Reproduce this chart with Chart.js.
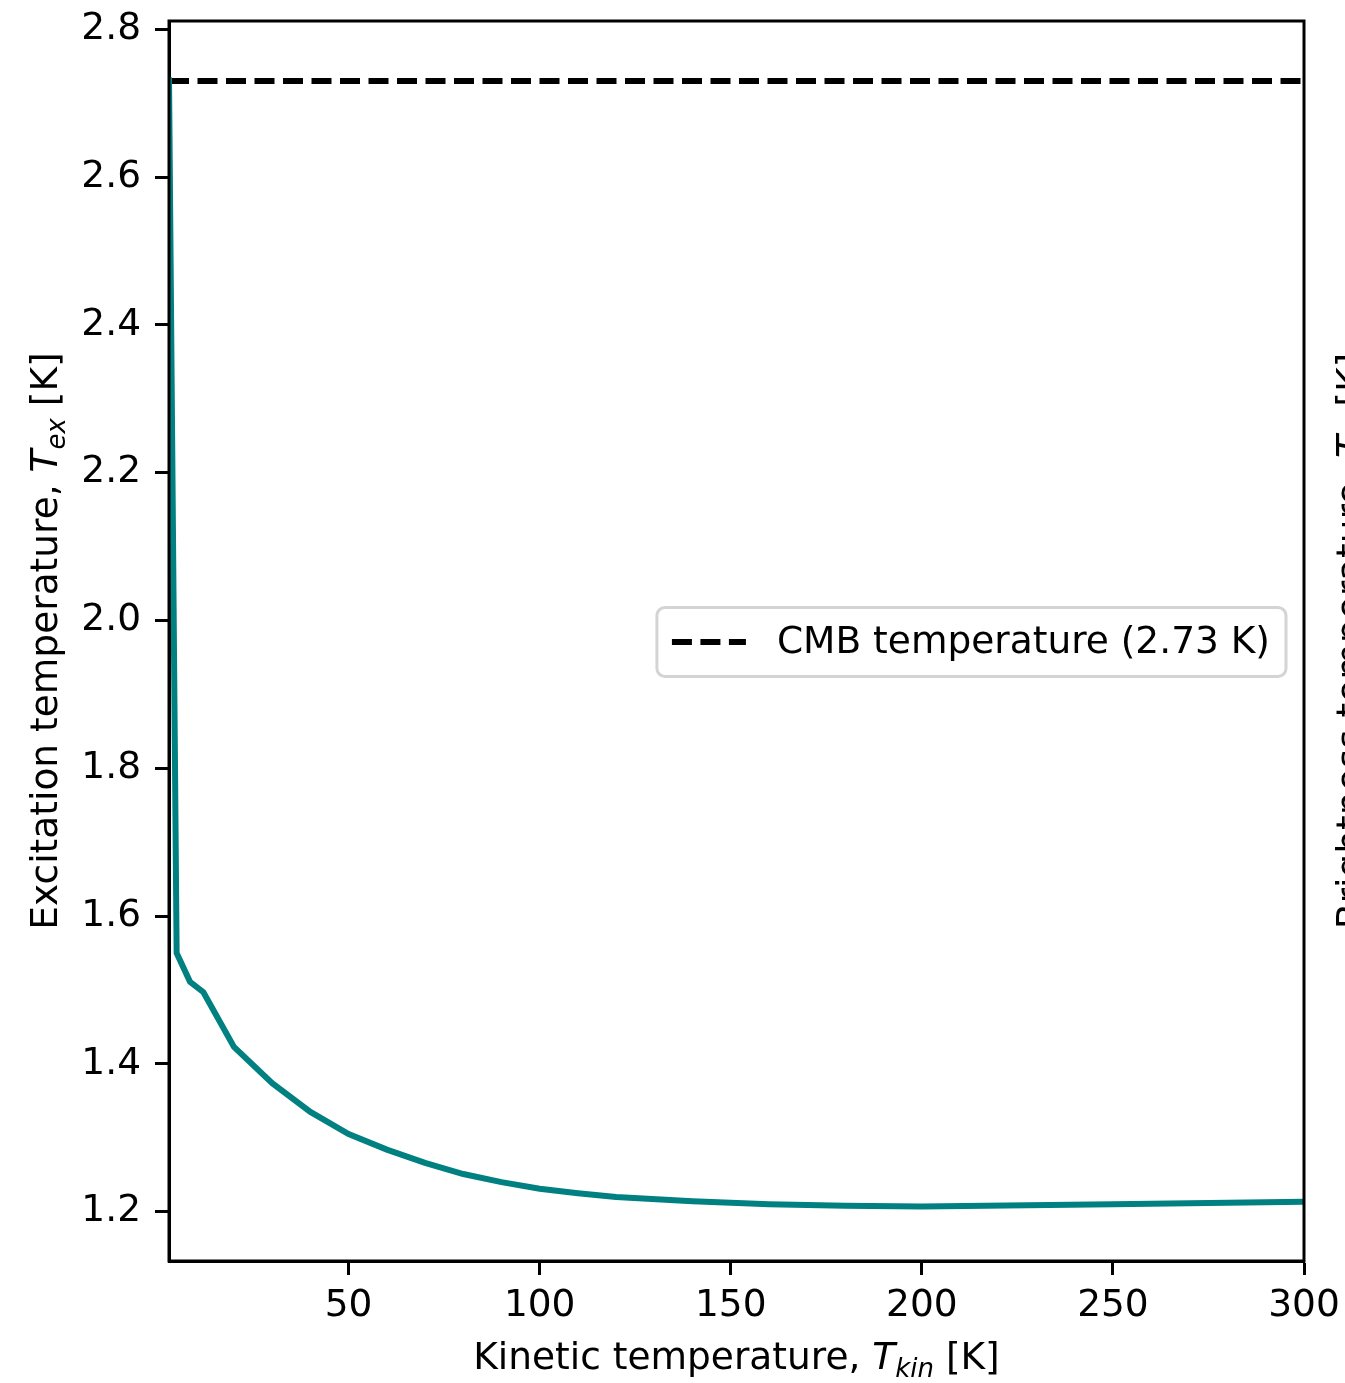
<!DOCTYPE html>
<html>
<head>
<meta charset="utf-8">
<script src="https://cdn.jsdelivr.net/npm/chart.js@4"></script>
<style>
  body { margin: 0; background: #fff; }
  canvas { display: block; }
</style>
</head>
<body>
<canvas id="grafico" width="1345" height="1383"></canvas>
<script>
// Datos
const kineticTemp = [3, 5, 8.5, 12, 20, 30, 40, 50, 60, 70, 80, 90, 100, 110, 120, 140, 160, 180, 200, 250, 300];
const excitationTemp = [2.735, 1.550, 1.511, 1.497, 1.423, 1.374, 1.335, 1.305, 1.284, 1.266, 1.251, 1.240, 1.231, 1.225, 1.220, 1.214, 1.210, 1.208, 1.207, 1.210, 1.2135];
const cmbTemp = 2.73;
const cmbLabel = 'CMB temperature (2.73 K)';
const xTicks = [50, 100, 150, 200, 250, 300];
const yTicks = [1.2, 1.4, 1.6, 1.8, 2.0, 2.2, 2.4, 2.6, 2.8];

const FAMILY = "'DejaVu Sans'";
const SIZE = 37.5;
const DASH = [20, 8.5];

function fontFor(p, size) {
    const s = p.sub ? Math.round(size * 0.7) : size;
    return (p.italic ? 'italic ' : '') + s + 'px ' + FAMILY;
}

// Texto con cursiva y subíndices, centrado en x
function drawRich(ctx, parts, x, y, size) {
    const widths = parts.map(p => { ctx.font = fontFor(p, size); return ctx.measureText(p.text).width; });
    const total = widths.reduce((a, b) => a + b, 0);
    let cx = x - total / 2;
    parts.forEach((p, i) => {
        ctx.font = fontFor(p, size);
        ctx.fillText(p.text, cx, y + (p.sub ? size * 0.2 : 0));
        cx += widths[i];
    });
}

const xTitle = [{ text: 'Kinetic temperature, ' }, { text: 'T', italic: true }, { text: 'kin', italic: true, sub: true }, { text: ' [K]' }];
const yTitle = [{ text: 'Excitation temperature, ' }, { text: 'T', italic: true }, { text: 'ex', italic: true, sub: true }, { text: ' [K]' }];
const y2Title = [{ text: 'Brightness temperature, ' }, { text: 'T', italic: true }, { text: 'b', italic: true, sub: true }, { text: ' [K]' }];

const decoracion = {
    id: 'decoracion',
    afterDatasetsDraw(chart) {
        const ctx = chart.ctx;
        const a = chart.chartArea;
        ctx.save();
        // marco
        ctx.strokeStyle = '#000';
        ctx.lineWidth = 3;
        ctx.strokeRect(a.left, a.top, a.right - a.left, a.bottom - a.top);

        // leyenda
        ctx.font = SIZE + 'px ' + FAMILY;
        const tw = ctx.measureText(cmbLabel).width;
        const w = 120 + tw + 16, h = 69;
        const bx = a.right - 18 - w, by = (a.top + a.bottom) / 2 + 1 - h / 2;
        ctx.fillStyle = 'rgba(255,255,255,0.8)';
        ctx.strokeStyle = '#d4d4d4';
        ctx.lineWidth = 3;
        ctx.beginPath();
        ctx.roundRect(bx, by, w, h, 8);
        ctx.fill();
        ctx.stroke();
        const cy = by + h / 2;
        ctx.strokeStyle = '#000';
        ctx.lineWidth = 6;
        ctx.setLineDash(DASH);
        ctx.beginPath();
        ctx.moveTo(bx + 15, cy);
        ctx.lineTo(bx + 89, cy);
        ctx.stroke();
        ctx.setLineDash([]);
        ctx.fillStyle = '#000';
        ctx.textBaseline = 'middle';
        ctx.textAlign = 'left';
        ctx.fillText(cmbLabel, bx + 120, cy + 1);

        // títulos de ejes
        ctx.textBaseline = 'alphabetic';
        drawRich(ctx, xTitle, (a.left + a.right) / 2, 1369, SIZE);
        ctx.save();
        ctx.translate(57, (a.top + a.bottom) / 2);
        ctx.rotate(-Math.PI / 2);
        drawRich(ctx, yTitle, 0, 0, SIZE);
        ctx.restore();
        ctx.save();
        ctx.translate(1363, (a.top + a.bottom) / 2);
        ctx.rotate(-Math.PI / 2);
        drawRich(ctx, y2Title, 0, 0, SIZE);
        ctx.restore();
        ctx.restore();
    }
};

function crearGrafico() {
    const ctx = document.getElementById('grafico').getContext('2d');
    const tickFont = { family: FAMILY, size: SIZE };
    const grid = { drawOnChartArea: false, drawTicks: true, tickLength: 14, tickWidth: 3, tickColor: '#000' };
    new Chart(ctx, {
        type: 'line',
        data: {
            datasets: [
                {
                    label: 'Tex',
                    data: kineticTemp.map((x, i) => ({ x: x, y: excitationTemp[i] })),
                    borderColor: '#008080',
                    borderWidth: 6,
                    pointRadius: 0,
                    tension: 0,
                    fill: false
                },
                {
                    label: cmbLabel,
                    data: [
                        { x: kineticTemp[0], y: cmbTemp },
                        { x: kineticTemp[kineticTemp.length - 1], y: cmbTemp }
                    ],
                    borderColor: '#000',
                    borderWidth: 6,
                    borderDash: DASH,
                    borderCapStyle: 'butt',
                    pointRadius: 0,
                    fill: false
                }
            ]
        },
        options: {
            responsive: false,
            animation: false,
            layout: { padding: { top: 21, right: 41, left: 0, bottom: 0 } },
            plugins: { legend: { display: false }, tooltip: { enabled: false } },
            scales: {
                x: {
                    type: 'linear',
                    min: 3,
                    max: 300,
                    afterBuildTicks: s => { s.ticks = xTicks.map(v => ({ value: v })); },
                    afterFit: s => { s.height = 122; s.paddingLeft = 0; s.paddingRight = 0; },
                    grid: grid,
                    border: { display: true, color: '#000', width: 3 },
                    ticks: { color: '#000', font: tickFont, padding: 9, maxRotation: 0, autoSkip: false }
                },
                y: {
                    min: 1.1333,
                    max: 2.8112,
                    afterBuildTicks: s => { s.ticks = yTicks.map(v => ({ value: v })); },
                    afterFit: s => { s.width = 169; s.paddingTop = 0; s.paddingBottom = 0; },
                    grid: grid,
                    border: { display: true, color: '#000', width: 3 },
                    ticks: { color: '#000', font: tickFont, padding: 14, autoSkip: false, callback: v => v.toFixed(1) }
                }
            }
        },
        plugins: [decoracion]
    });
}

document.addEventListener('DOMContentLoaded', crearGrafico);
</script>
</body>
</html>
